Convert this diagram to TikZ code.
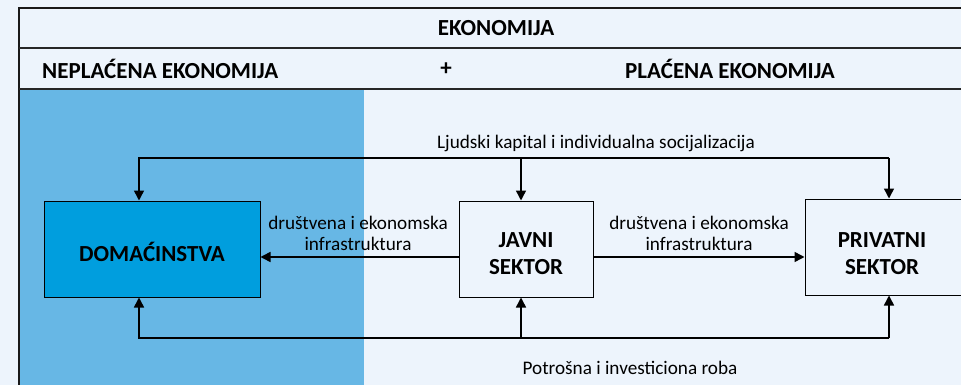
\documentclass[tikz,border=0pt]{standalone}
\usepackage{fontspec}
\setmainfont{Carlito}
\usetikzlibrary{arrows.meta}
\definecolor{pagebg}{HTML}{EDF4FC}
\definecolor{unpaid}{HTML}{67B7E5}
\definecolor{hhfill}{HTML}{009EDE}
\begin{document}
\begin{tikzpicture}[x=1pt,y=-1pt,
  frame/.style={line width=1.8pt,draw=black!90},
  sectorbox/.style={draw=black,line width=1pt,minimum height=96pt,inner sep=0pt},
  boxtext/.style={align=center,font=\fontsize{23}{27.5}\selectfont\bfseries,inner sep=0pt},
  flow/.style={line width=1.5pt,-{Triangle[width=10pt,length=10pt]}},
  lbl/.style={font=\fontsize{19.2}{21}\selectfont,align=center,inner sep=0pt},
  head/.style={font=\fontsize{23}{26}\selectfont\bfseries,inner sep=0pt}]
\useasboundingbox (0,0) rectangle (961,385);
\clip (0,0) rectangle (961,385);
\fill[pagebg] (0,0) rectangle (961,385);
% unpaid economy band
\fill[unpaid] (20,89) rectangle (364,390);
% header frame
\draw[frame] (19,390) -- (19,8) -- (970,8);
\draw[line width=1.5pt,draw=black!85] (19,48) -- (970,48);
\draw[line width=1.5pt,draw=black!85] (19,89) -- (970,89);
\node[head] (eko) at (496,28) {EKONOMIJA};
\node[head,anchor=west] (unpaidlbl) at (42,69) {NEPLAĆENA EKONOMIJA};
\node[head] (plus) at (446,69) {+};
\node[head] (paidlbl) at (730,69) {PLAĆENA EKONOMIJA};
% sectors
\node[sectorbox,fill=hhfill,minimum width=216pt] (hh) at (152,249) {};
\node[sectorbox,fill=pagebg,minimum width=134pt] (pub) at (526,249) {};
\node[sectorbox,fill=pagebg,minimum width=160pt] (priv) at (885,247) {};
\node[boxtext] (hhtxt) at ([yshift=-3]hh.center) {DOMAĆINSTVA};
\node[boxtext] (pubtxt) at ([yshift=-4.5]pub.center) {JAVNI\\SEKTOR};
\node[boxtext] (privtxt) at ([xshift=-3,yshift=-6.5]priv.center) {PRIVATNI\\SEKTOR};
% feedback loops
\coordinate (tl) at (139,158);
\coordinate (tm) at (521,158);
\coordinate (tr) at (889,158);
\coordinate (bl) at (139,338);
\coordinate (bm) at (521,338);
\coordinate (br) at (889,338);
\draw[flow] (tr) -- (tl) -- (hh.north -| tl);
\draw[flow] (tr) -- (priv.north -| tr);
\draw[flow] (tm) -- (pub.north -| tm);
\draw[flow] (br) -- (bl) -- (hh.south -| bl);
\draw[flow] (br) -- (priv.south -| br);
\draw[flow] (bm) -- (pub.south -| bm);
\node[lbl] (cap) at (596,143) {Ljudski kapital i individualna socijalizacija};
\node[lbl] (goods) at (630,368) {Potrošna i investiciona roba};
% infrastructure flows
\coordinate (mid) at (0,257);
\draw[flow] (pub.west |- mid) -- (hh.east |- mid);
\draw[flow] (pub.east |- mid) -- (priv.west |- mid);
\node[lbl] (inf1) at (358,233.5) {društvena i ekonomska\\infrastruktura};
\node[lbl] (inf2) at (699,233.5) {društvena i ekonomska\\infrastruktura};
\end{tikzpicture}
\end{document}
